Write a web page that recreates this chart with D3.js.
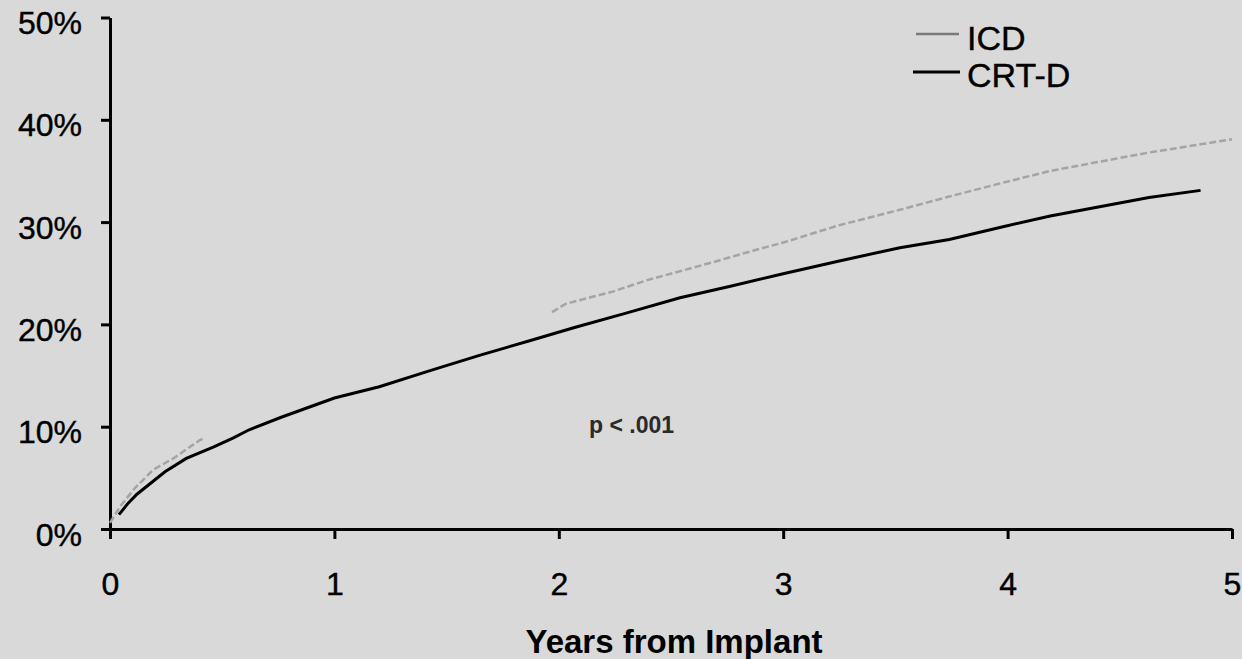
<!DOCTYPE html>
<html>
<head>
<meta charset="utf-8">
<script src="https://cdn.jsdelivr.net/npm/d3@7"></script>
<style>
  html, body { margin: 0; padding: 0; background: #d9d9d9; }
  svg { display: block; }
  text { font-family: Arial, "Liberation Sans", sans-serif; fill: #000; }
</style>
</head>
<body>
<svg id="chart" width="1242" height="659"></svg>
<script>
// Cumulative event rate (%) by years from implant
const crtdYears = [0.04, 0.08, 0.12, 0.245, 0.34, 0.46, 0.55, 0.62, 0.76, 1.00, 1.20, 1.43, 1.65, 1.87, 2.07, 2.30, 2.54, 2.76, 2.99, 3.25, 3.52, 3.74, 3.97, 4.19, 4.41, 4.63, 4.86];
const crtdPct   = [1.4, 2.5, 3.4, 5.6, 6.9, 8.0, 8.9, 9.7, 10.9, 12.8, 13.9, 15.5, 17.0, 18.4, 19.7, 21.1, 22.6, 23.7, 24.9, 26.2, 27.5, 28.3, 29.5, 30.6, 31.5, 32.4, 33.1];

// ICD curve is shown in two pieces (early follow-up and from year 2 on)
const icdEarlyYears = [0.0, 0.045, 0.111, 0.193, 0.282, 0.401, 0.42];
const icdEarlyPct   = [0.6, 2.2, 4.0, 5.8, 6.9, 8.7, 8.9];
const icdLateYears  = [1.97, 2.03, 2.15, 2.24, 2.39, 2.54, 2.69, 2.88, 3.00, 3.25, 3.52, 3.74, 3.97, 4.19, 4.41, 4.63, 4.86, 5.00];
const icdLatePct    = [21.2, 22.0, 22.7, 23.2, 24.3, 25.2, 26.1, 27.3, 28.0, 29.7, 31.2, 32.5, 33.8, 35.0, 35.9, 36.8, 37.6, 38.1];

const xTicks = [0, 1, 2, 3, 4, 5];
const yTicks = [0, 10, 20, 30, 40, 50];
const seriesNames = ["ICD", "CRT-D"];
const xTitle = "Years from Implant";
const pLabel = "p < .001";

const svg = d3.select("#chart");
svg.append("rect").attr("width", 1242).attr("height", 659).attr("fill", "#d9d9d9");

const x = d3.scaleLinear().domain([0, 5]).range([110, 1232]);
const y = d3.scaleLinear().domain([0, 50]).range([529, 17.5]);

// Axes
const yAxis = d3.axisLeft(y).tickValues(yTicks).tickFormat(d => d + "%")
  .tickSize(9).tickSizeOuter(0).tickPadding(19);
const gy = svg.append("g").attr("transform", "translate(110,0)").call(yAxis);
gy.selectAll("text").attr("dy", "0.5em").style("font-size", "32px");

const xAxis = d3.axisBottom(x).tickValues(xTicks).tickFormat(d3.format("d"))
  .tickSize(10).tickSizeOuter(0).tickPadding(33);
const gx = svg.append("g").attr("transform", "translate(0,529)").call(xAxis);
gx.selectAll("text").style("font-size", "32px");

[gx, gy].forEach(g => {
  g.select(".domain").attr("stroke", "#000").attr("stroke-width", 3);
  g.selectAll(".tick line").attr("stroke", "#000").attr("stroke-width", 3);
  g.selectAll("text").style("fill", "#000").style("stroke", "#000").style("stroke-width", 0.4);
});

// Curves
const line = d3.line().x(d => x(d[0])).y(d => y(d[1]));
const zip = (a, b) => a.map((v, i) => [v, b[i]]);

const icdStyle = g => g.attr("fill", "none").attr("stroke", "#a4a4a4")
  .attr("stroke-width", 2.5).attr("stroke-dasharray", "7 3");

svg.append("path").datum(zip(icdEarlyYears, icdEarlyPct)).attr("d", line).call(icdStyle);
svg.append("path").datum(zip(icdLateYears, icdLatePct)).attr("d", line).call(icdStyle);

svg.append("path").datum(zip(crtdYears, crtdPct)).attr("d", line)
  .attr("fill", "none").attr("stroke", "#000").attr("stroke-width", 3);

// Legend
const legend = svg.append("g");
const legendRows = [
  { name: seriesNames[0], y: 34, x1: 916, x2: 959, color: "#7a7a7a", w: 2.5, base: 50 },
  { name: seriesNames[1], y: 72, x1: 913, x2: 960, color: "#000", w: 3, base: 87 }
];
legendRows.forEach(r => {
  legend.append("line").attr("x1", r.x1).attr("x2", r.x2).attr("y1", r.y).attr("y2", r.y)
    .attr("stroke", r.color).attr("stroke-width", r.w);
  legend.append("text").attr("x", 967).attr("y", r.base).style("font-size", "34px")
    .style("stroke", "#000").style("stroke-width", 0.4).text(r.name);
});

// Axis title and p-value
svg.append("text").attr("x", 674).attr("y", 653).attr("text-anchor", "middle")
  .style("font-size", "33px").style("font-weight", "bold").text(xTitle);
svg.append("text").attr("x", 589).attr("y", 433).style("font-size", "23px")
  .style("font-weight", "bold").style("fill", "#2a2a2a").text(pLabel);
</script>
</body>
</html>
